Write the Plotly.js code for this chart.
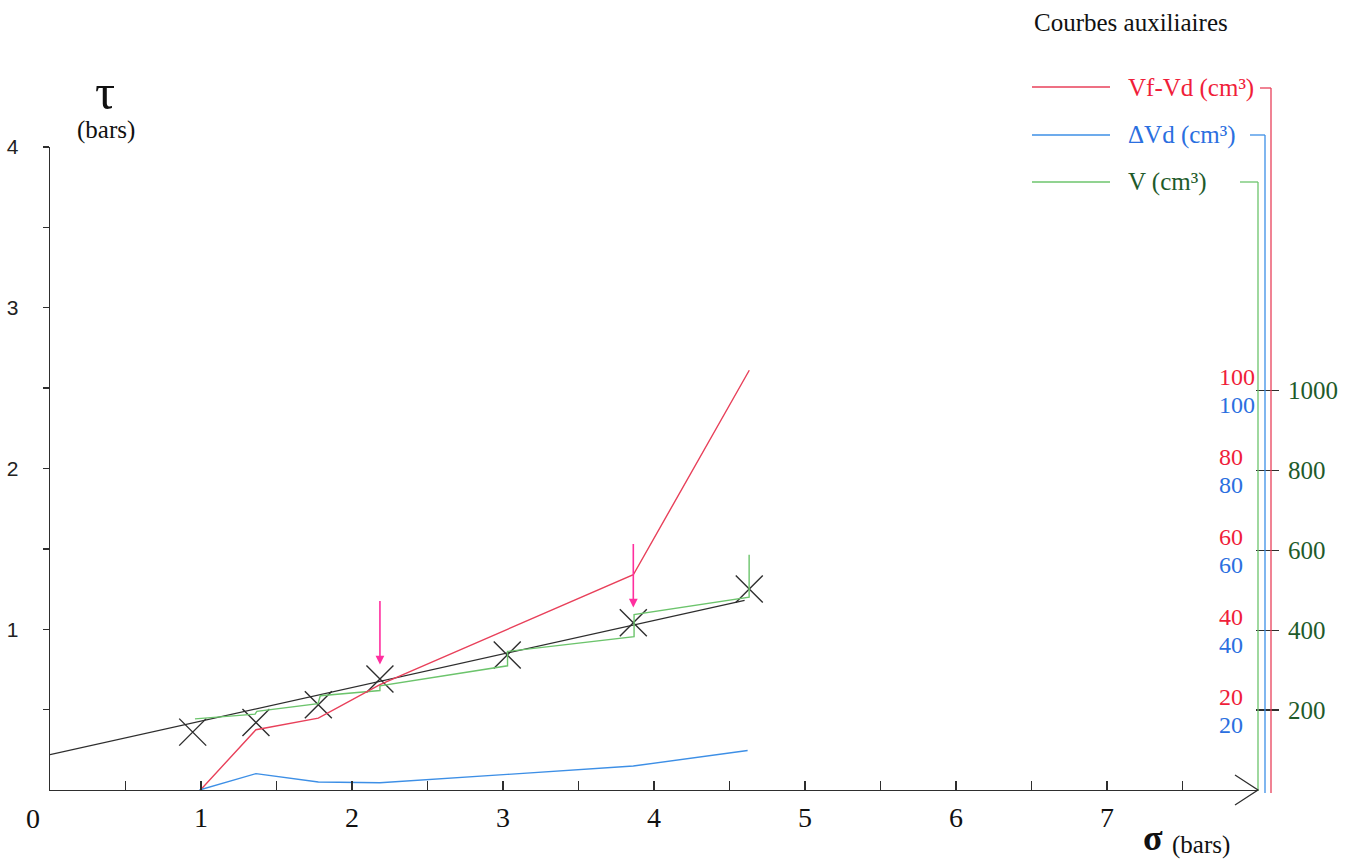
<!DOCTYPE html>
<html>
<head>
<meta charset="utf-8">
<script src="https://cdn.plot.ly/plotly-3.0.1.min.js"></script>
<style>html,body{margin:0;padding:0;background:#fff;}#chart{width:1354px;height:860px;}</style>
</head>
<body>
<div id="chart"></div>
<script>
// ---- data ----
var sigmaPoints = [0.945, 1.364, 1.777, 2.185, 3.028, 3.863, 4.631];
var tauPoints   = [0.36, 0.42, 0.53, 0.69, 0.84, 1.04, 1.25];

var fitSigma = [0, 4.6];
var fitTau   = [0.22, 1.18];

var vSigma = [0.96, 1.358, 1.37, 1.775, 1.79, 2.185, 2.185, 3.03, 3.03, 3.868, 3.868, 4.63, 4.63];
var vValues = [178, 190, 197, 216, 236, 249, 261, 311, 347, 384, 439, 483, 589];

var vfvdSigma  = [0.95, 1.364, 1.777, 2.185, 3.863, 4.631];
var vfvdValues = [-1.9, 15.1, 18.0, 26.4, 53.9, 105.1];

var dvdSigma  = [0.99, 1.364, 1.777, 2.185, 3.028, 3.863, 4.62];
var dvdValues = [0, 4.1, 2.0, 1.8, 3.9, 6.0, 9.9];

var arrowSigma = [2.185, 3.863];
var arrowTau   = [0.78, 1.135];

var xTickVals = [0.5, 1, 1.5, 2, 2.5, 3, 3.5, 4, 4.5, 5, 5.5, 6, 6.5, 7, 7.5];
var xTickText = ['', '1', '', '2', '', '3', '', '4', '', '5', '', '6', '', '7', ''];
var yTickVals = [0.5, 1, 1.5, 2, 2.5, 3, 3.5, 4];
var yTickText = ['', '1', '', '2', '', '3', '', '4'];
var vTickVals = [200, 400, 600, 800, 1000];
var cm3TickVals = [20, 40, 60, 80, 100];

// ---- styles ----
var SERIF = 'Liberation Serif, Times New Roman, serif';
var SANS = 'Liberation Sans, Arial, sans-serif';
var RED_LINE = '#e8405a', RED_TXT = '#f01e3a';
var BLUE_LINE = '#3d8fe6', BLUE_TXT = '#2b6fe0';
var GREEN_LINE = '#6cc46c', GREEN_TXT = '#1e5b2b';
var BLACK = '#2e2e2e';
var ARROW = '#ff2f9f';

var L = 50, R = 1258, T = 147, B = 790;
function px(x) { return (x - L) / (R - L); }
function py(y) { return (B - y) / (B - T); }

var traces = [
  {x: fitSigma, y: fitTau, mode: 'lines', line: {color: BLACK, width: 1.3}, xaxis: 'x', yaxis: 'y', hoverinfo: 'skip'},
  {x: vSigma, y: vValues, mode: 'lines', line: {color: GREEN_LINE, width: 1.4}, xaxis: 'x', yaxis: 'y2', hoverinfo: 'skip'},
  {x: vfvdSigma, y: vfvdValues, mode: 'lines', line: {color: RED_LINE, width: 1.4}, xaxis: 'x', yaxis: 'y3', hoverinfo: 'skip'},
  {x: dvdSigma, y: dvdValues, mode: 'lines', line: {color: BLUE_LINE, width: 1.4}, xaxis: 'x', yaxis: 'y4', hoverinfo: 'skip'},
  {x: sigmaPoints, y: tauPoints, mode: 'markers', marker: {symbol: 'x-thin-open', size: 27, line: {color: BLACK, width: 1.4}, color: BLACK}, xaxis: 'x', yaxis: 'y', hoverinfo: 'skip'}
];

function note(x, y, text, size, color, xanchor, family) {
  return {xref: 'paper', yref: 'paper', x: px(x), y: py(y), text: text, showarrow: false,
    xanchor: xanchor || 'center', yanchor: 'middle', font: {family: family || SERIF, size: size, color: color || '#111'}};
}

var annotations = [];
arrowSigma.forEach(function (s, i) {
  annotations.push({x: s, y: arrowTau[i], xref: 'x', yref: 'y', text: '', showarrow: true,
    ax: 0, ay: -65, arrowhead: 2, arrowsize: 1.1, arrowwidth: 1.6, arrowcolor: ARROW});
});
annotations.push(
  note(105, 92, 'τ', 50),
  note(106, 130, '(bars)', 25),
  note(33, 818, '0', 28),
  note(1153, 838, '<b>σ</b>', 36),
  note(1170, 845, '(bars)', 25, '#111', 'left'),
  note(1032, 23, 'Courbes auxiliaires', 25, '#111', 'left'),
  note(1126, 88, 'Vf-Vd (cm³)', 25, RED_TXT, 'left'),
  note(1126, 135, 'ΔVd (cm³)', 25, BLUE_TXT, 'left'),
  note(1126, 182, 'V (cm³)', 25, GREEN_TXT, 'left')
);

function seg(x0, y0, x1, y1, color, w) {
  return {type: 'line', xref: 'paper', yref: 'paper', x0: px(x0), y0: py(y0), x1: px(x1), y1: py(y1), line: {color: color, width: w || 1.3}, layer: 'above'};
}
var shapes = [
  // legend samples
  seg(1032, 87, 1110, 87, RED_LINE), seg(1032, 135, 1110, 135, BLUE_LINE), seg(1032, 182, 1110, 182, GREEN_LINE),
  // bracket lines to the auxiliary scales
  seg(1260, 88, 1271, 88, RED_LINE), seg(1271, 88, 1271, 793, RED_LINE),
  seg(1250, 135, 1265, 135, BLUE_LINE), seg(1265, 135, 1265, 793, BLUE_LINE),
  seg(1240, 182, 1258, 182, GREEN_LINE), seg(1258, 182, 1258, 791, GREEN_LINE),
  // open arrowhead at end of sigma axis
  {type: 'path', xref: 'paper', yref: 'paper', xsizemode: 'pixel', ysizemode: 'pixel', xanchor: 1, yanchor: 0,
   path: 'M -23,15 L 0,0 L -23,-15', line: {color: BLACK, width: 1.3}, layer: 'above'}
];

var baseAxis = {showgrid: false, zeroline: false, fixedrange: true};
var layout = {
  width: 1354, height: 860,
  margin: {l: L, r: 1354 - R, t: T, b: 860 - B},
  paper_bgcolor: '#fff', plot_bgcolor: '#fff',
  showlegend: false, hovermode: false,
  font: {family: SERIF, color: '#111'},
  xaxis: Object.assign({}, baseAxis, {range: [0, 8], showline: true, linecolor: BLACK, linewidth: 1.3,
    tickmode: 'array', tickvals: xTickVals, ticktext: xTickText, ticks: 'inside', ticklen: 9, tickwidth: 1.3, tickcolor: BLACK,
    tickfont: {family: SERIF, size: 28, color: '#111'}, ticklabelstandoff: 2}),
  xaxis2: Object.assign({}, baseAxis, {range: [0, 8], overlaying: 'x', anchor: 'y', showline: false,
    tickmode: 'array', tickvals: xTickVals, ticks: 'outside', ticklen: 9, tickwidth: 1.3, tickcolor: BLACK, showticklabels: false}),
  yaxis: Object.assign({}, baseAxis, {range: [0, 4], showline: true, linecolor: BLACK, linewidth: 1.3,
    tickmode: 'array', tickvals: yTickVals, ticktext: yTickText, ticks: 'outside', ticklen: 6, tickwidth: 1.3, tickcolor: BLACK,
    tickfont: {family: SANS, size: 21, color: '#222'}, ticklabelstandoff: 20}),
  yaxis5: Object.assign({}, baseAxis, {range: [0, 4], overlaying: 'y', anchor: 'x', side: 'left', showline: false,
    tickmode: 'array', tickvals: yTickVals, ticks: 'inside', ticklen: 6, tickwidth: 1.3, tickcolor: BLACK, showticklabels: false}),
  yaxis2: Object.assign({}, baseAxis, {range: [0, 1610], overlaying: 'y', anchor: 'free', position: px(1255), side: 'right', showline: false,
    tickmode: 'array', tickvals: vTickVals, ticks: 'outside', ticklen: 23, tickwidth: 1.3, tickcolor: BLACK,
    tickfont: {family: SERIF, size: 25, color: GREEN_TXT}, ticklabelstandoff: 4}),
  yaxis3: Object.assign({}, baseAxis, {range: [0, 161], overlaying: 'y', anchor: 'free', position: px(1218), side: 'right', showline: false,
    tickmode: 'array', tickvals: cm3TickVals, ticks: '', ticklabelshift: -14, ticklabelstandoff: 0,
    tickfont: {family: SERIF, size: 24, color: RED_TXT}}),
  yaxis4: Object.assign({}, baseAxis, {range: [0, 161], overlaying: 'y', anchor: 'free', position: px(1218), side: 'right', showline: false,
    tickmode: 'array', tickvals: cm3TickVals, ticks: '', ticklabelshift: 14, ticklabelstandoff: 0,
    tickfont: {family: SERIF, size: 24, color: BLUE_TXT}}),
  annotations: annotations,
  shapes: shapes
};

Plotly.newPlot('chart', traces, layout, {displayModeBar: false, staticPlot: true});
</script>
</body>
</html>
